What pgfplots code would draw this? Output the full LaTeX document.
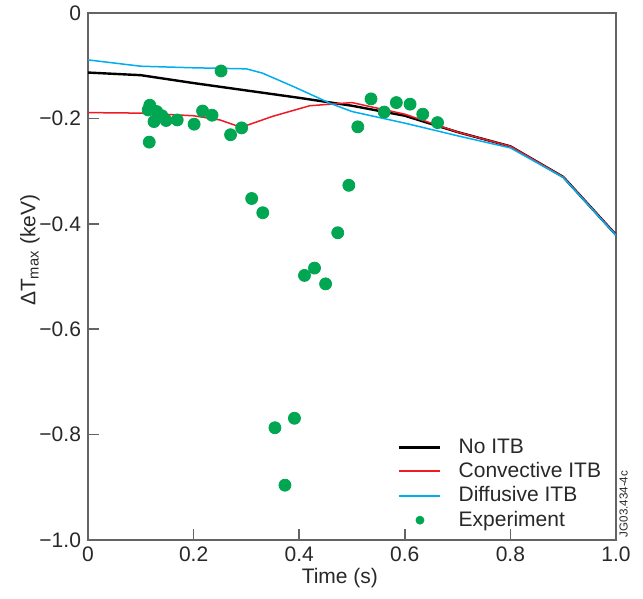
\documentclass[border=0pt]{standalone}
\usepackage{fontspec}
\setmainfont{Liberation Sans}
\usepackage{pgfplots}
\pgfplotsset{compat=1.18}
\definecolor{diffblue}{RGB}{0,174,239}
\definecolor{convred}{RGB}{237,28,36}
\definecolor{expgreen}{RGB}{0,166,81}
\definecolor{axgray}{RGB}{100,100,100}
\definecolor{txt}{RGB}{40,40,40}
\begin{document}
\begin{tikzpicture}
\useasboundingbox (-44pt,-29.5pt) rectangle (277.5pt,270pt);
\begin{axis}[
  scale only axis, width=264pt, height=263.5pt,
  xmin=0, xmax=1, ymin=-1, ymax=0,
  axis line style={axgray, line width=0.75pt},
  tick style={axgray, line width=0.8pt},
  major tick length=5.5pt,
  tick align=inside,
  xtick pos=bottom, ytick pos=left,
  xtick={0,0.2,0.4,0.6,0.8,1}, xticklabels={0,0.2,0.4,0.6,0.8,1.0},
  ytick={-1,-0.8,-0.6,-0.4,-0.2,0}, yticklabels={−1.0,−0.8,−0.6,−0.4,−0.2,0},
  tick label style={font=\fontsize{10.5}{12}\selectfont, text=txt},
  label style={font=\fontsize{10.5}{12}\selectfont, text=txt},
  xlabel={Time (s)},
  ylabel={ΔT\textsubscript{max} (keV)},
  xlabel style={at={(axis description cs:0.477,-0.072)}, anchor=center},
  ylabel style={at={(axis description cs:-0.11,0.55)}, anchor=center},
  legend style={draw=none, fill=none, at={(axis description cs:0.5755,0.0044)}, anchor=south west,
    font=\fontsize{10.5}{12}\selectfont, text=txt, row sep=-0.9pt,
    /tikz/every odd column/.append style={column sep=6.5pt}},
  legend cell align=left,
]
\addlegendimage{legend image code/.code={\draw[draw=black, line width=1.2pt] (0pt,0pt) -- (20.5pt,0pt);}}
\addlegendentry{No ITB}
\addlegendimage{legend image code/.code={\draw[draw=convred, line width=0.9pt] (0pt,0pt) -- (20.5pt,0pt);}}
\addlegendentry{Convective ITB}
\addlegendimage{legend image code/.code={\draw[draw=diffblue, line width=0.9pt] (0pt,0pt) -- (20.5pt,0pt);}}
\addlegendentry{Diffusive ITB}
\addlegendimage{legend image code/.code={\fill[expgreen] (10.25pt,0pt) circle (2pt);}}
\addlegendentry{Experiment}
\addplot[forget plot, draw=black, line width=1.2pt] coordinates {
(0,-0.113) (0.1,-0.118) (0.2,-0.133) (0.3,-0.147) (0.4,-0.161) (0.5,-0.176)
(0.6,-0.195) (0.7,-0.226) (0.8,-0.253) (0.9,-0.311) (1.0,-0.421)};
\addplot[forget plot, draw=convred, line width=0.75pt] coordinates {
(0,-0.189) (0.1,-0.190) (0.2,-0.195) (0.25,-0.203) (0.29,-0.217) (0.35,-0.196)
(0.42,-0.176) (0.5,-0.170) (0.6,-0.192) (0.7,-0.226) (0.8,-0.253) (0.9,-0.311) (1.0,-0.421)};
\addplot[forget plot, draw=diffblue, line width=0.75pt] coordinates {
(0,-0.089) (0.1,-0.101) (0.2,-0.104) (0.3,-0.106) (0.33,-0.114) (0.39,-0.140)
(0.46,-0.172) (0.5,-0.187) (0.6,-0.209) (0.7,-0.233) (0.8,-0.256) (0.9,-0.312) (1.0,-0.422)};
\addplot[forget plot, only marks, mark=*, mark size=3pt, color=expgreen,
  mark options={fill=expgreen, draw=none}] coordinates {
(0.117,-0.175) (0.114,-0.184) (0.130,-0.187) (0.140,-0.195) (0.125,-0.206)
(0.148,-0.204) (0.169,-0.203) (0.201,-0.211) (0.217,-0.186) (0.235,-0.194)
(0.252,-0.110) (0.270,-0.231) (0.291,-0.218) (0.116,-0.245) (0.310,-0.352)
(0.331,-0.379) (0.473,-0.417) (0.494,-0.327) (0.511,-0.216) (0.536,-0.163)
(0.561,-0.188) (0.584,-0.170) (0.610,-0.173) (0.634,-0.192) (0.662,-0.208)
(0.429,-0.484) (0.410,-0.498) (0.450,-0.514) (0.391,-0.769) (0.354,-0.787)
(0.373,-0.896)};
\end{axis}
\node[rotate=90, anchor=north west, font=\fontsize{5.8}{6}\selectfont, text=txt, inner sep=0pt]
  at ([xshift=1.5pt, yshift=1.2pt]current axis.south east) {JG03.434-4c};
\end{tikzpicture}
\end{document}
